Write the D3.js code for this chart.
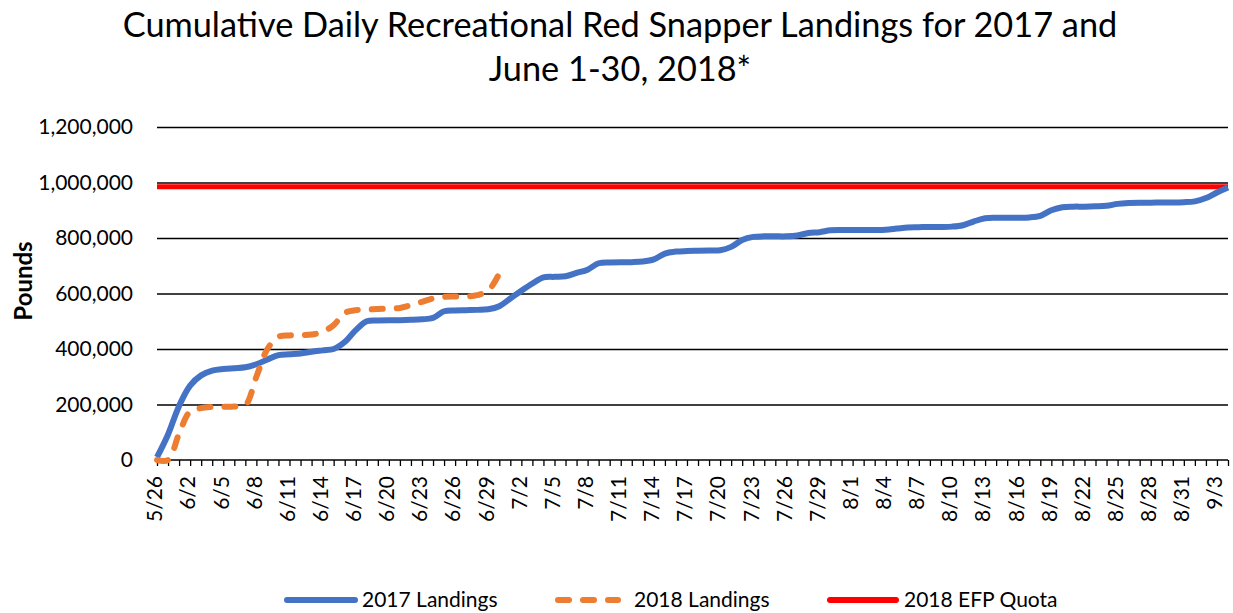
<!DOCTYPE html>
<html>
<head>
<meta charset="utf-8">
<script src="https://cdn.jsdelivr.net/npm/d3@7"></script>
<style>
  body { margin: 0; background: #fff; }
  text { font-family: Lato, "Open Sans", sans-serif; fill: #000; }
</style>
</head>
<body>
<script>
'use strict';

// category labels (Excel category axis, one per day)
const dates = [
  "5/26", "5/27", "6/1",
  "6/2", "6/3", "6/4", "6/5", "6/6", "6/7", "6/8", "6/9", "6/10", "6/11", "6/12", "6/13", "6/14", "6/15",
  "6/16", "6/17", "6/18", "6/19", "6/20", "6/21", "6/22", "6/23", "6/24", "6/25", "6/26", "6/27", "6/28",
  "6/29", "6/30",
  "7/1", "7/2", "7/3", "7/4", "7/5", "7/6", "7/7", "7/8", "7/9", "7/10", "7/11", "7/12", "7/13", "7/14",
  "7/15", "7/16", "7/17", "7/18", "7/19", "7/20", "7/21", "7/22", "7/23", "7/24", "7/25", "7/26", "7/27",
  "7/28", "7/29", "7/30", "7/31",
  "8/1", "8/2", "8/3", "8/4", "8/5", "8/6", "8/7", "8/8", "8/9", "8/10", "8/11", "8/12", "8/13", "8/14",
  "8/15", "8/16", "8/17", "8/18", "8/19", "8/20", "8/21", "8/22", "8/23", "8/24", "8/25", "8/26", "8/27",
  "8/28", "8/29", "8/30", "8/31",
  "9/1", "9/2", "9/3", "9/4"
];

// cumulative pounds, 2017 season
const landings2017 = [
  10000, 92000, 195000, 268000, 305000, 322000, 328000, 331000, 334000, 345000,
  362000, 378000, 381000, 384000, 390000, 395000, 400000, 425000, 468000, 500000,
  503000, 504000, 504000, 505000, 507000, 512000, 536000, 539000, 540000, 541000,
  543000, 554000, 582000, 610000, 636000, 658000, 660000, 662000, 674000, 686000,
  709000, 712000, 713000, 713000, 715000, 723000, 744000, 751000, 753000, 754000,
  755000, 756000, 768000, 793000, 804000, 806000, 806000, 806000, 809000, 818000,
  821000, 828000, 829000, 829000, 829000, 829000, 830000, 834000, 838000, 839000,
  840000, 840000, 841000, 846000, 860000, 871000, 873000, 873000, 873000, 874000,
  880000, 900000, 911000, 913000, 913000, 914000, 916000, 923000, 926000, 927000,
  927000, 928000, 928000, 929000, 932000, 944000, 964000, 982000
];

// cumulative pounds, June 1-30 2018 (plotted from the first category)
const landings2018 = [
  0, 0, 95000, 175000, 187000, 191000, 192000, 193000, 198000, 300000,
  400000, 444000, 449000, 450000, 452000, 462000, 486000, 530000, 540000, 542000,
  544000, 546000, 548000, 558000, 570000, 582000, 588000, 589000, 589000, 594000,
  610000, 672000
];

const efpQuota = 984291;
const yTicks = [0, 200000, 400000, 600000, 800000, 1000000, 1200000];

const titleLines = ["Cumulative Daily Recreational Red Snapper Landings for 2017 and", "June 1-30, 2018*"];
const seriesNames = ["2017 Landings", "2018 Landings", "2018 EFP Quota"];
const colors = { blue: "#4472C4", orange: "#ED7D31", red: "#FF0000" };

let svg = d3.select('body').append('svg')
  .attr('width', 1233)
  .attr('height', 613);

let plot = { left: 157, right: 1228, top: 127, bottom: 460 };

let x = d3.scalePoint()
  .domain(d3.range(dates.length))
  .range([plot.left, plot.right]);

let y = d3.scaleLinear()
  .domain([0, 1200000])
  .range([plot.bottom, plot.top]);

// gridlines
svg.append('g')
  .attr('transform', `translate(${plot.left},0)`)
  .call(d3.axisLeft(y).tickValues(yTicks.slice(1)).tickSize(-(plot.right - plot.left)).tickFormat(''))
  .call(g => g.select('.domain').remove())
  .call(g => g.selectAll('line').attr('stroke', '#000').attr('stroke-width', 1.6));

// y tick labels
svg.append('g')
  .attr('transform', `translate(${plot.left},0)`)
  .call(d3.axisLeft(y).tickValues(yTicks).tickSize(0).tickPadding(24).tickFormat(d3.format(',')))
  .call(g => g.select('.domain').remove())
  .call(g => g.selectAll('text').style('font-size', '21px').attr('fill', '#000'));

// x axis with a tick per category, label every 3rd
let xAxis = svg.append('g')
  .attr('transform', `translate(0,${plot.bottom})`)
  .call(d3.axisBottom(x).tickSize(6).tickFormat(''))
  .call(g => g.select('.domain').attr('stroke', '#000').attr('stroke-width', 1.6).attr('d', `M${plot.left},0H${plot.right}`))
  .call(g => g.selectAll('line').attr('stroke', '#000').attr('stroke-width', 1.3));

svg.append('g').selectAll('text')
  .data(d3.range(0, dates.length, 3))
  .enter()
  .append('text')
    .attr('transform', (i) => `translate(${x(i) - 2},${plot.bottom + 16}) rotate(-90)`)
    .attr('text-anchor', 'end')
    .attr('dy', '0.35em')
    .style('font-size', '21px')
    .text((i) => dates[i]);

// red quota line
svg.append('line')
  .attr('x1', plot.left)
  .attr('x2', plot.right)
  .attr('y1', y(efpQuota))
  .attr('y2', y(efpQuota))
  .attr('stroke', colors.red)
  .attr('stroke-width', 5);

let lineGen = d3.line()
  .x((d, i) => x(i))
  .y((d) => y(d))
  .curve(d3.curveCatmullRom.alpha(0.5));

svg.append('path')
  .datum(landings2017)
  .attr('d', lineGen)
  .attr('fill', 'none')
  .attr('stroke', colors.blue)
  .attr('stroke-width', 6)
  .attr('stroke-linejoin', 'round');

svg.append('path')
  .datum(landings2018)
  .attr('d', lineGen)
  .attr('fill', 'none')
  .attr('stroke', colors.orange)
  .attr('stroke-width', 6)
  .attr('stroke-linecap', 'round')
  .attr('stroke-dasharray', '11,14');

// title, scaled to the width of the original
let title = svg.append('text')
  .attr('x', 620)
  .attr('y', 37)
  .attr('text-anchor', 'middle')
  .style('font-size', '30px')
  .text(titleLines[0]);
let tw = title.node().getComputedTextLength();
let titleSize = 30 * 995 / tw;
title.style('font-size', titleSize + 'px');

svg.append('text')
  .attr('x', 620)
  .attr('y', 81)
  .attr('text-anchor', 'middle')
  .style('font-size', titleSize + 'px')
  .text(titleLines[1]);

// y axis title
svg.append('text')
  .attr('transform', 'translate(32, 281) rotate(-90)')
  .attr('text-anchor', 'middle')
  .style('font-size', '24px')
  .style('font-weight', 'bold')
  .text('Pounds');

// legend
let legendY = 600;
let legend = [
  { name: seriesNames[0], color: colors.blue, x1: 287, x2: 355, dash: null, tx: 362 },
  { name: seriesNames[1], color: colors.orange, x1: 558, x2: 618, dash: '11,14', tx: 634 },
  { name: seriesNames[2], color: colors.red, x1: 830, x2: 896, dash: null, tx: 904 }
];

legend.forEach((d) => {
  svg.append('line')
    .attr('x1', d.x1).attr('x2', d.x2)
    .attr('y1', legendY).attr('y2', legendY)
    .attr('stroke', d.color)
    .attr('stroke-width', 6)
    .attr('stroke-linecap', 'round')
    .attr('stroke-dasharray', d.dash);
  svg.append('text')
    .attr('x', d.tx)
    .attr('y', legendY)
    .attr('dy', '0.35em')
    .style('font-size', '21px')
    .text(d.name);
});
</script>
</body>
</html>
